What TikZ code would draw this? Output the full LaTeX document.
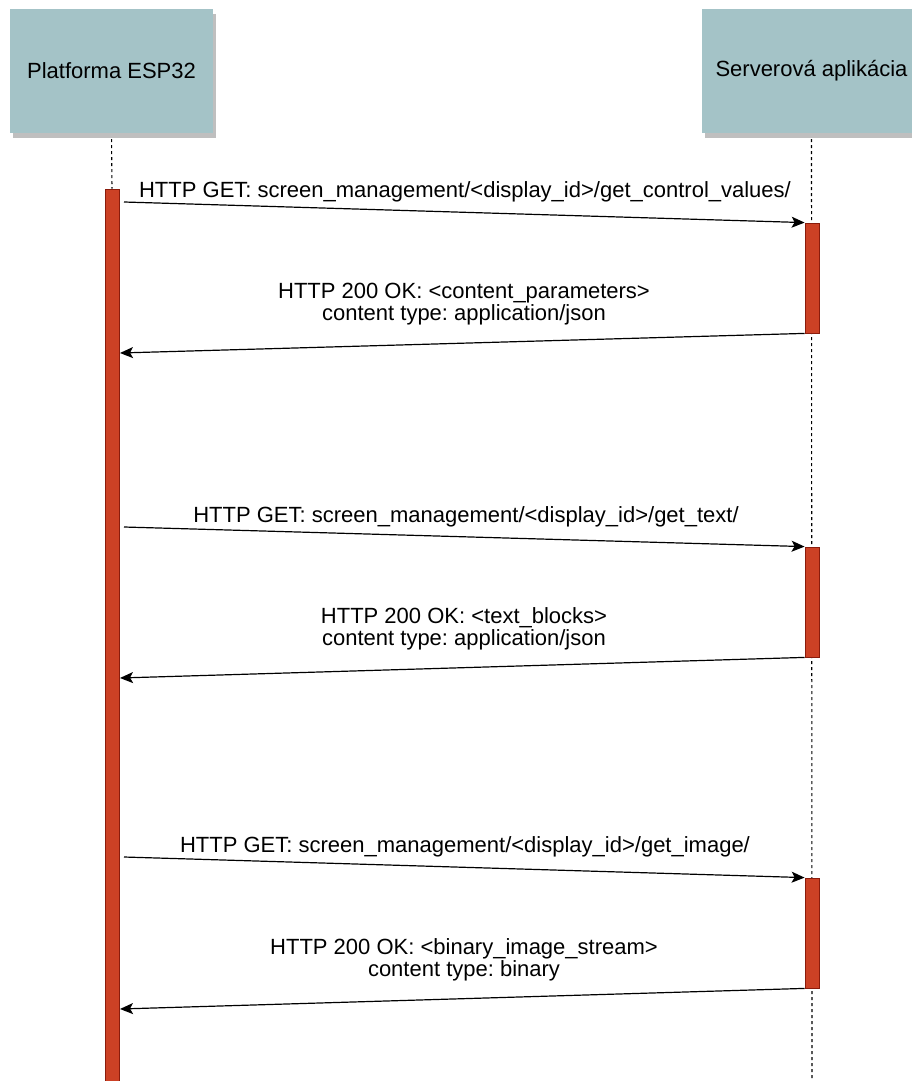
\documentclass[tikz,border=0pt]{standalone}
\usepackage{fontspec}
\setmainfont{Liberation Sans}
\usetikzlibrary{arrows.meta,shadows}
\pgfdeclarelayer{background}
\pgfsetlayers{background,main}
\frenchspacing
\definecolor{boxteal}{HTML}{A4C3C7}
\definecolor{barred}{HTML}{CC4125}
\definecolor{bardark}{HTML}{8A1C0C}
\tikzstyle{participant}=[rectangle,fill=boxteal,minimum height=124pt,inner sep=0pt,drop shadow={shadow xshift=3pt,shadow yshift=-5pt,fill=black!25,opacity=1}]
\tikzstyle{activation}=[rectangle,fill=barred,draw=bardark,line width=0.8pt,minimum width=14pt,inner sep=0pt]
\tikzstyle{lifeline}=[draw,dash pattern=on 3pt off 3pt,line width=1.1pt]
\tikzstyle{message}=[draw,line width=1.2pt,-{Stealth[length=13pt,width=11pt,inset=3pt]}]
\tikzstyle{msglabel}=[anchor=base,align=center,inner sep=0pt]

\begin{document}
\begin{tikzpicture}[x=1pt,y=-1pt,font=\fontsize{22}{22}\selectfont]
    \useasboundingbox (0,0) rectangle (912,1081);
    % The two participants
    \node[participant,minimum width=203pt] (esp) at (111.5,71) {Platforma ESP32};
    \node[participant,minimum width=219pt] (server) at (811.5,71) {Serverová aplikácia};

    % Activation bars
    \node[activation,minimum height=901pt] (espbar) at (112,639.5) {};
    \foreach \y/\name in {278/srv1, 602/srv2, 933/srv3}
        \node[activation,minimum height=110pt] (\name) at (812,\y) {};

    % Lifelines behind the bars
    \coordinate (srvend) at (812,1081);
    \begin{pgfonlayer}{background}
        \path[lifeline] (esp.south) -- (espbar.north);
        \path[lifeline] (server.south) -- (srvend);
    \end{pgfonlayer}

    % Requests and responses
    \foreach \n/\ys/\ye in {1/202/353, 2/527/678, 3/857/1009} {
        \coordinate (get\n) at (124,\ys);
        \coordinate (ok\n) at (120,\ye);
        \path[message] (get\n) -- (srv\n.north west);
        \path[message] (srv\n.south west) -- (ok\n);
    }

    % Message labels
    \node[msglabel] (req1) at (465,197) {HTTP GET: screen\_management/<display\_id>/get\_control\_values/};
    \node[msglabel] (resp1) at (464,320) {HTTP 200 OK: <content\_parameters>\\content type: application/json};
    \node[msglabel] (req2) at (466,522) {HTTP GET: screen\_management/<display\_id>/get\_text/};
    \node[msglabel] (resp2) at (464,645) {HTTP 200 OK: <text\_blocks>\\content type: application/json};
    \node[msglabel] (req3) at (465,852) {HTTP GET: screen\_management/<display\_id>/get\_image/};
    \node[msglabel] (resp3) at (464,976) {HTTP 200 OK: <binary\_image\_stream>\\content type: binary};
\end{tikzpicture}
\end{document}
